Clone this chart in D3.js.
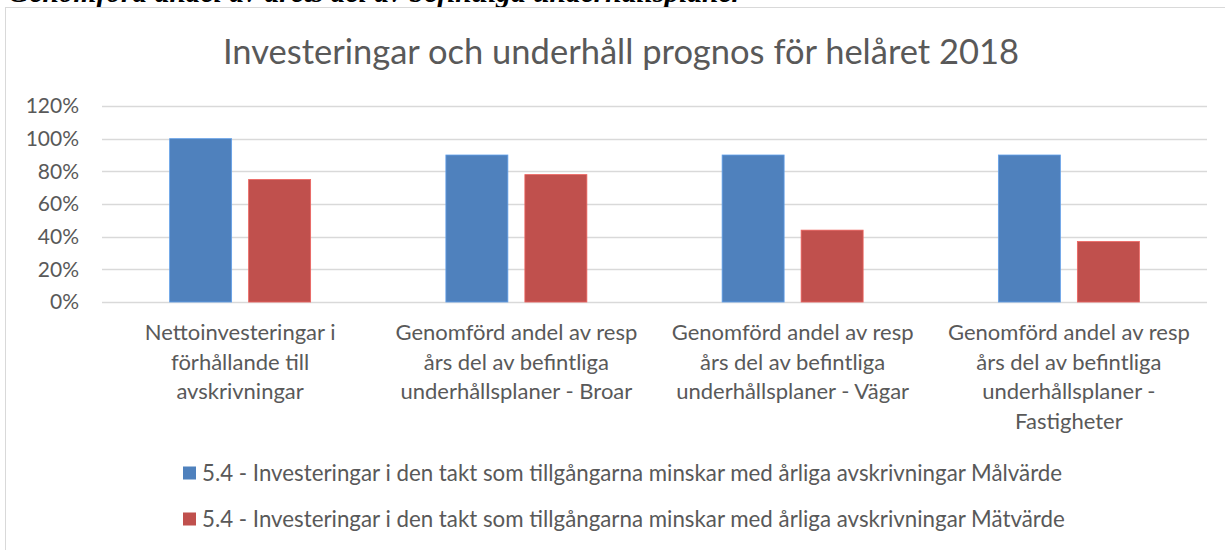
<!DOCTYPE html>
<html>
<head>
<meta charset="utf-8">
<script src="https://cdn.jsdelivr.net/npm/d3@7"></script>
<style>
  html, body { margin: 0; padding: 0; background: #ffffff; }
  svg { display: block; }
</style>
</head>
<body>
<svg id="chart" width="1225" height="550"></svg>
<script>
// Category labels (line breaks as in the axis layout)
const categories = [
  "Nettoinvesteringar i\nförhållande till\navskrivningar",
  "Genomförd andel av resp\nårs del av befintliga\nunderhållsplaner - Broar",
  "Genomförd andel av resp\nårs del av befintliga\nunderhållsplaner - Vägar",
  "Genomförd andel av resp\nårs del av befintliga\nunderhållsplaner -\nFastigheter"
];
const seriesNames = [
  "5.4 - Investeringar i den takt som tillgångarna minskar med årliga avskrivningar Målvärde",
  "5.4 - Investeringar i den takt som tillgångarna minskar med årliga avskrivningar Mätvärde"
];
const malvarde = [1.00, 0.90, 0.90, 0.90];
const matvarde = [0.75, 0.78, 0.44, 0.37];
const yTicks = [0, 0.2, 0.4, 0.6, 0.8, 1.0, 1.2];
const seriesColors = ["#4f81bd", "#c0504d"];

const chartTitle = "Investeringar och underhåll prognos för helåret 2018";
const captionAbove = "Genomförd andel av årets del av befintliga underhållsplaner";

const FONT = "Lato, 'Open Sans', sans-serif";
const TEXT = "#595959";

const svg = d3.select("#chart");

// Caption from the surrounding document, running off the top edge
svg.append("text")
  .attr("x", 8).attr("y", 2)
  .attr("font-family", "'Liberation Serif', 'Times New Roman', serif")
  .attr("font-style", "italic")
  .attr("font-weight", "bold")
  .attr("font-size", 29.5)
  .attr("fill", "#000")
  .text(captionAbove);

// Chart area frame
svg.append("rect")
  .attr("x", 5.5).attr("y", 7.5)
  .attr("width", 1240).attr("height", 600)
  .attr("fill", "#fff")
  .attr("stroke", "#d9d9d9")
  .attr("stroke-width", 1);

// Title
svg.append("text")
  .attr("x", 621).attr("y", 64)
  .attr("text-anchor", "middle")
  .attr("font-family", FONT)
  .attr("font-size", 34.5)
  .attr("fill", TEXT)
  .text(chartTitle);

// Scales
const x0 = d3.scaleBand()
  .domain(d3.range(categories.length))
  .range([102, 1207])
  .paddingInner(0).paddingOuter(0);

const x1 = d3.scaleBand()
  .domain([0, 1])
  .range([0, x0.bandwidth()])
  .paddingInner(17 / 79)
  .paddingOuter(0.856);

const y = d3.scaleLinear().domain([0, 1.2]).range([302, 106]);

// Gridlines
svg.append("g")
  .selectAll("line")
  .data(yTicks)
  .join("line")
  .attr("x1", 102).attr("x2", 1207)
  .attr("y1", d => Math.round(y(d)) + 0.5)
  .attr("y2", d => Math.round(y(d)) + 0.5)
  .attr("stroke", "#d9d9d9")
  .attr("stroke-width", 1.5);

// Y axis labels
const yAxis = d3.axisLeft(y)
  .tickValues(yTicks)
  .tickFormat(d3.format(".0%"))
  .tickSize(0)
  .tickPadding(0);

const yg = svg.append("g")
  .attr("transform", "translate(79,0)")
  .call(yAxis);
yg.select(".domain").remove();
yg.selectAll("text")
  .attr("font-family", FONT)
  .attr("font-size", 21)
  .attr("fill", TEXT);

// Bars
const seriesData = [malvarde, matvarde];
const groups = svg.append("g")
  .selectAll("g")
  .data(categories.map((c, i) => i))
  .join("g")
  .attr("transform", i => `translate(${x0(i)},0)`);

groups.selectAll("rect")
  .data(i => seriesData.map((s, k) => ({ k, v: s[i] })))
  .join("rect")
  .attr("x", d => x1(d.k))
  .attr("width", x1.bandwidth())
  .attr("y", d => y(d.v))
  .attr("height", d => y(0) - y(d.v))
  .attr("fill", d => seriesColors[d.k])
  .attr("stroke", d => d3.color(seriesColors[d.k]).brighter(0.6))
  .attr("stroke-width", 0.8);

// Category labels
const catG = svg.append("g");
categories.forEach((label, i) => {
  const t = catG.append("text")
    .attr("text-anchor", "middle")
    .attr("font-family", FONT)
    .attr("font-size", 22)
    .attr("fill", TEXT);
  label.split("\n").forEach((line, j) => {
    t.append("tspan")
      .attr("x", x0(i) + x0.bandwidth() / 2)
      .attr("y", 340 + j * 29.7)
      .text(line);
  });
});

// Legend
const legend = svg.append("g");
seriesNames.forEach((name, k) => {
  const ly = 473 + k * 46;
  legend.append("rect")
    .attr("x", 183).attr("y", ly - 6.5)
    .attr("width", 13).attr("height", 13)
    .attr("fill", seriesColors[k]);
  legend.append("text")
    .attr("x", 202).attr("y", ly + 7.5)
    .attr("font-family", FONT)
    .attr("font-size", 22.3)
    .attr("fill", TEXT)
    .text(name);
});
</script>
</body>
</html>
